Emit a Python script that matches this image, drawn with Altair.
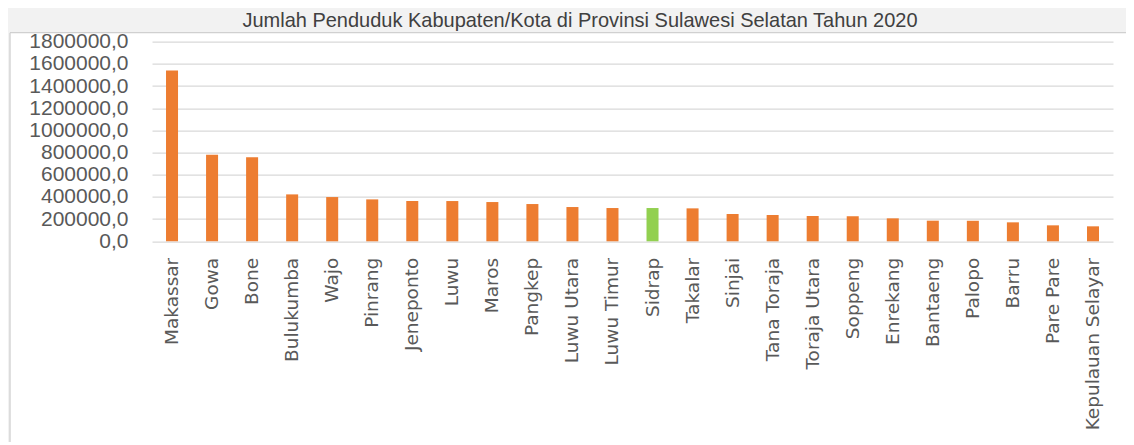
import altair as alt
import pandas as pd

# ---- data ----
regions = ["Makassar", "Gowa", "Bone", "Bulukumba", "Wajo", "Pinrang", "Jeneponto",
           "Luwu", "Maros", "Pangkep", "Luwu Utara", "Luwu Timur", "Sidrap", "Takalar",
           "Sinjai", "Tana Toraja", "Toraja Utara", "Soppeng", "Enrekang", "Bantaeng",
           "Palopo", "Barru", "Pare Pare", "Kepulauan Selayar"]
population = [1540000, 780000, 759000, 423000, 399000, 378000, 363000,
              363000, 354000, 336000, 309000, 300000, 300000, 297000,
              246000, 237000, 228000, 226000, 207000, 186000,
              185000, 171000, 144000, 135000]
highlighted = ["Sidrap"]
y_ticks = [0, 200000, 400000, 600000, 800000, 1000000, 1200000, 1400000, 1600000, 1800000]
title_text = "Jumlah Penduduk Kabupaten/Kota di Provinsi Sulawesi Selatan Tahun 2020"

df = pd.DataFrame({
    "Wilayah": regions,
    "Penduduk": population,
    "Kelompok": ["sorot" if r in highlighted else "biasa" for r in regions],
})

W, H = 961, 199.6
PAD_L, PAD_T = 144, 33.7
FRAME_Y = -9.0   # frame's top border, relative to the plot area

bars = alt.Chart(df).mark_bar().encode(
    x=alt.X("Wilayah:N", sort=regions, title=None,
            scale=alt.Scale(paddingInner=0.7, paddingOuter=0.35),
            axis=alt.Axis(labelAngle=270, labelAlign="right", labelBaseline="middle",
                          labelFont="DejaVu Sans", labelFontSize=18.5, labelColor="#595959",
                          labelPadding=16, ticks=False, domain=False, grid=False,
                          labelLimit=300)),
    y=alt.Y("Penduduk:Q", title=None,
            scale=alt.Scale(domain=[0, 1800000], nice=False),
            axis=alt.Axis(values=y_ticks,
                          labelExpr="replace(format(datum.value, '.1f'), '.', ',')",
                          labelFont="Liberation Sans", labelFontSize=21, labelColor="#595959",
                          labelPadding=24, ticks=False, domain=False,
                          grid=True, gridColor="#d9d9d9", gridWidth=1.3)),
    color=alt.Color("Kelompok:N", legend=None,
                    scale=alt.Scale(domain=["biasa", "sorot"], range=["#ED7D31", "#92D050"])),
)

one = alt.Data(values=[{"k": 1}])

# grey strip above the chart frame and the frame's border lines
top_strip = alt.Chart(one).mark_rect(color="#f2f2f2").encode(
    x=alt.value(-PAD_L), x2=alt.value(W + 40),
    y=alt.value(-PAD_T), y2=alt.value(FRAME_Y),
)
left_strip = alt.Chart(one).mark_rect(color="#f2f2f2").encode(
    x=alt.value(-PAD_L), x2=alt.value(-142),
    y=alt.value(FRAME_Y), y2=alt.value(H + 210),
)
frame_top = alt.Chart(one).mark_rule(color="#d0d0d0", strokeWidth=1.3).encode(
    x=alt.value(-142), x2=alt.value(W + 40), y=alt.value(FRAME_Y),
)
frame_left = alt.Chart(one).mark_rule(color="#d0d0d0", strokeWidth=1.3).encode(
    x=alt.value(-142), y=alt.value(FRAME_Y), y2=alt.value(H + 210),
)

title = alt.Chart(one).mark_text(
    text=title_text, font="Liberation Sans", fontSize=20, color="#404040",
    align="center", baseline="alphabetic",
).encode(x=alt.value(428), y=alt.value(-14.5))

chart = alt.layer(top_strip, left_strip, frame_top, frame_left, bars, title).properties(
    width=W, height=H,
    autosize=alt.AutoSizeParams(type="none"),
    padding={"left": PAD_L, "top": PAD_T, "right": 13, "bottom": 201},
    background="white",
).configure_view(stroke=None)

chart.save("out.html", embed_options={"renderer": "svg", "actions": False})
